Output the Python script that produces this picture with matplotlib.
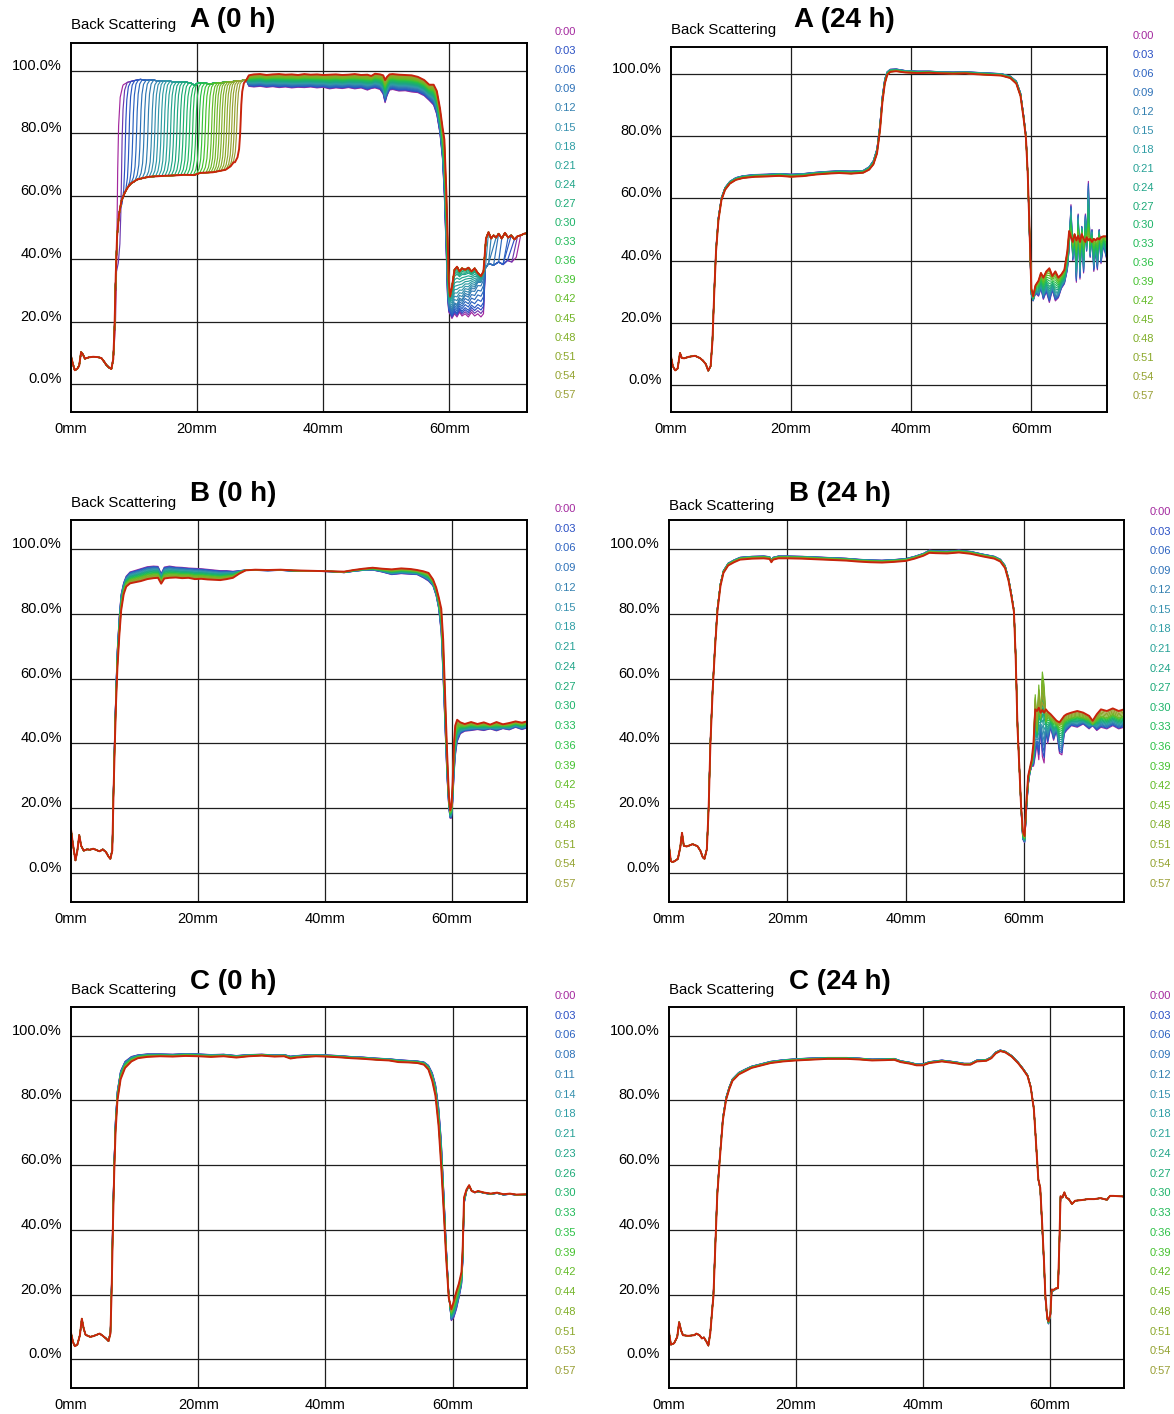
import numpy as np
import matplotlib
matplotlib.use("Agg")
import matplotlib.pyplot as plt
from matplotlib.colors import LinearSegmentedColormap

plt.rcParams["font.family"] = ["Liberation Sans", "DejaVu Sans"]

# ------------------------------------------------------------------
# Scan time labels and their colours
# ------------------------------------------------------------------
TIME_LABELS = ["0:00", "0:03", "0:06", "0:09", "0:12", "0:15", "0:18", "0:21", "0:24", "0:27",
               "0:30", "0:33", "0:36", "0:39", "0:42", "0:45", "0:48", "0:51", "0:54", "0:57"]
TIME_LABELS_C0 = ["0:00", "0:03", "0:06", "0:08", "0:11", "0:14", "0:18", "0:21", "0:23", "0:26",
                  "0:30", "0:33", "0:35", "0:39", "0:42", "0:44", "0:48", "0:51", "0:53", "0:57"]
LEGEND_COLORS = ["#a3289e", "#2a4fc4", "#2b62c0", "#2d71b8", "#3380b0", "#3590ae", "#2f9ea5",
                 "#26a196", "#1fa488", "#1daa78", "#1db36a", "#20ba58", "#2bc146", "#45c22f",
                 "#62bb26", "#72b427", "#80ae28", "#8ba82a", "#93a22f", "#999f35"]

X_TICKS = [0, 20, 40, 60]
Y_TICKS = [0, 20, 40, 60, 80, 100]

# ------------------------------------------------------------------
# A (0 h): migrating front between a lower and an upper plateau
# ------------------------------------------------------------------
A0_BASE_X = [0.0, 0.3, 0.6, 1.0, 1.3, 1.6, 1.9, 2.2, 2.8, 3.5, 4.2, 4.8, 5.2, 5.6, 6.0, 6.4]
A0_BASE_Y = [9.0, 6.5, 4.5, 5.0, 6.0, 10.3, 9.5, 8.2, 8.6, 8.8, 8.7, 8.4, 7.4, 6.2, 5.4, 4.9]
A0_LOW_X = [6.7, 6.9, 7.1, 7.3, 7.6, 8.0, 8.5, 9.0, 9.5, 10.5, 11.5, 12.5, 13.5, 15.0, 16.5,
            18.0, 19.5, 20.5, 21.5, 22.5, 23.5, 24.5, 25.3, 25.8]
A0_LOW_Y = [8.0, 18.0, 35.0, 47.0, 54.0, 58.5, 61.0, 62.8, 64.0, 65.3, 65.8, 66.2, 66.3, 66.5, 66.6,
            66.8, 66.7, 67.4, 67.5, 67.6, 68.0, 68.4, 69.5, 70.8]
A0_HIGH_X = [7.8, 8.3, 9.0, 10.0, 11.0, 12.0, 13.0, 14.0, 15.0, 16.0, 17.0, 18.0, 19.0, 19.6,
             20.2, 21.0, 22.0, 23.0, 24.0, 25.0, 26.0, 27.0, 27.8]
A0_HIGH_Y = [93.5, 95.5, 96.3, 96.8, 97.2, 96.9, 97.0, 96.6, 96.8, 96.5, 96.3, 96.4, 96.0, 95.3,
             96.2, 96.0, 95.8, 96.0, 96.2, 96.3, 96.6, 96.8, 97.0]
A0_RIGHT_X = [28.2, 29, 30, 31, 32, 33, 34, 35, 36, 37, 38, 39, 40, 41, 42, 43, 44, 45, 46, 47,
              47.6, 48.2, 49, 49.5, 49.8, 50.1, 50.5, 51, 52, 53, 54, 55, 56, 56.8, 57.5, 58.0,
              58.5, 58.9, 59.2, 59.5, 59.7, 59.9]
A0_RIGHT_FIRST = [95.0, 94.8, 95.0, 94.7, 94.9, 94.6, 94.8, 94.5, 94.7, 94.6, 94.8, 94.5, 94.7,
                  94.2, 94.5, 94.3, 94.6, 94.2, 94.5, 93.8, 94.3, 94.5, 94.0, 92.5, 89.8, 92.0,
                  93.8, 94.0, 93.5, 93.6, 93.2, 93.0, 92.0, 90.5, 89.0, 86.0, 80.0, 72.0, 60.0,
                  42.0, 28.0, 23.0]
A0_RIGHT_LAST = [98.5, 98.8, 98.9, 98.6, 98.8, 98.9, 98.7, 98.8, 98.6, 98.9, 98.7, 98.8, 98.6,
                 98.7, 98.8, 98.6, 98.7, 98.9, 98.6, 98.7, 98.3, 99.0, 98.8, 98.5, 97.0, 98.0,
                 98.8, 98.9, 98.7, 98.6, 98.5, 98.0, 97.0, 95.5, 95.5, 93.5, 88.0, 82.0, 78.0,
                 62.0, 48.0, 33.0]
A0_TAIL_X = [60.1, 60.4, 60.8, 61.2, 61.6, 62.0, 62.5, 63.0, 63.5, 64.0, 64.5, 65.0, 65.4]
A0_TAIL_LOW = [22.5, 21.0, 22.5, 21.5, 23.0, 21.8, 22.5, 21.5, 23.0, 21.8, 22.5, 21.5, 22.5]
A0_TAIL_DIAG = [25.0, 24.0, 26.0, 25.5, 27.5, 27.0, 29.0, 28.5, 30.5, 30.5, 32.5, 32.5, 34.5]
A0_TAIL_HIGH = [28.0, 31.0, 36.5, 37.5, 36.0, 37.0, 36.5, 37.2, 36.0, 37.0, 35.5, 34.5, 36.0]
A0_STEP_LOW_X = [65.7, 66.2, 67.0, 67.8, 68.5, 69.2, 69.9, 70.6, 71.3, 72.3]
A0_STEP_LOW_Y = [37.0, 38.5, 38.0, 39.0, 38.2, 39.5, 39.0, 40.5, 41.0, 43.0]
A0_STEP_HIGH_X = [65.8, 66.2, 66.6, 67.0, 67.4, 67.8, 68.3, 68.8, 69.3, 69.8, 70.3, 70.8, 71.3,
                  71.8, 72.3]
A0_STEP_HIGH_Y = [46.5, 48.5, 46.5, 47.5, 46.8, 48.0, 46.5, 48.3, 46.8, 47.5, 46.2, 47.2, 47.5,
                  48.0, 48.2]
# front position of every scan (mm), tail mixing state and tail step position (mm)
A0_FRONT = [7.3, 8.0, 8.6, 9.2, 9.8, 10.4, 11.0, 11.6, 12.2, 12.8, 13.3, 13.8, 14.3, 14.8, 15.3,
            15.8, 16.3, 16.8, 17.3, 17.8, 18.3, 18.8, 19.3, 19.8, 20.3, 20.8, 21.3, 21.8, 22.3,
            22.7, 23.1, 23.5, 23.9, 24.3, 24.7, 25.1, 25.5, 25.9, 26.3, 26.9]
A0_TAIL_MIX = [0.0, 0.1, 0.2, 0.3, 0.45, 0.6, 0.75, 0.9, 1.0, 1.1, 1.2, 1.3, 1.4, 1.5, 1.6, 1.7,
               1.8, 1.85, 1.9, 1.95, 2.0, 2.0, 2.0, 2.0, 2.0, 2.0, 2.0, 2.0, 2.0, 2.0, 2.0, 2.0,
               2.0, 2.0, 2.0, 2.0, 2.0, 2.0, 2.0, 2.0]
A0_TAIL_STEP = [70.8, 70.3, 69.7, 69.2, 68.6, 68.0, 67.4, 66.8, 66.3, 65.9, 65.6, 65.6, 65.6,
                65.6, 65.6, 65.6, 65.6, 65.6, 65.6, 65.6, 65.6, 65.6, 65.6, 65.6, 65.6, 65.6,
                65.6, 65.6, 65.6, 65.6, 65.6, 65.6, 65.6, 65.6, 65.6, 65.6, 65.6, 65.6, 65.6, 65.6]
RISE_DX = [-0.9, -0.5, -0.25, -0.1, 0.0, 0.1, 0.25, 0.5, 0.9]
RISE_FRAC = [0.0, 0.06, 0.16, 0.32, 0.5, 0.7, 0.86, 0.96, 1.0]

# ------------------------------------------------------------------
# A (24 h)
# ------------------------------------------------------------------
A24_X = [0.0, 0.3, 0.7, 1.1, 1.5, 1.8, 2.2, 3.0, 4.0, 4.8, 5.3, 5.8, 6.2, 6.6, 6.9, 7.2, 7.5, 7.9,
         8.4, 9.0, 9.8, 10.8, 12, 14, 16, 18, 20, 22, 24, 26, 28, 30, 32, 33, 33.7, 34.3, 34.8,
         35.2, 35.6, 36.0, 36.5, 37.5, 39, 41, 43, 45, 47, 49, 51, 53, 55, 56.5, 57.5, 58.2,
         58.7, 59.1, 59.4, 59.7, 60.0, 60.3, 60.7, 61.2, 61.6, 62.0, 62.5, 63.0, 63.5, 64.0,
         64.5, 65.0, 65.5, 66.0, 66.3, 66.6, 66.9, 67.2, 67.5, 67.8, 68.1, 68.4, 68.7, 69.0,
         69.2, 69.5, 69.8, 70.1, 70.4, 70.7, 71.0, 71.3, 71.6, 72.0, 72.6]
A24_FIRST = [9.0, 6.0, 4.6, 5.2, 10.2, 8.6, 8.5, 9.0, 9.3, 8.6, 7.8, 6.6, 4.5, 6.0, 14.5, 30.5,
             44.0, 54.0, 60.3, 63.5, 65.5, 66.7, 67.3, 67.7, 67.8, 68.0, 67.8, 68.0, 68.4, 68.7,
             68.9, 68.8, 69.0, 70.2, 72.2, 76.0, 84.0, 93.0, 98.5, 100.8, 101.6, 101.7, 101.2,
             101.0, 101.0, 100.8, 100.7, 100.8, 100.6, 100.4, 100.2, 99.4, 97.8, 94.0, 87.0,
             80.5, 68.0, 48.0, 29.0, 27.0, 29.5, 28.5, 31.0, 27.5, 30.0, 26.5, 30.5, 27.0, 28.0,
             31.0, 32.5, 37.0, 44.0, 58.0, 40.0, 47.0, 33.0, 55.0, 34.0, 51.0, 36.0, 55.0, 43.0,
             65.5, 41.0, 50.0, 36.5, 44.0, 37.0, 50.0, 39.0, 45.0, 40.0]
A24_LAST = [9.0, 6.0, 4.6, 5.2, 10.2, 8.6, 8.5, 9.0, 9.3, 8.6, 7.8, 6.6, 4.5, 6.0, 14.0, 29.6,
            43.0, 53.0, 59.5, 62.8, 64.8, 66.0, 66.6, 67.0, 67.1, 67.3, 67.0, 67.2, 67.7, 68.0,
            68.2, 68.0, 68.3, 69.3, 71.0, 74.5, 82.0, 91.0, 97.0, 99.8, 100.8, 101.0, 100.6,
            100.4, 100.5, 100.3, 100.2, 100.3, 100.0, 99.8, 99.6, 98.8, 97.0, 93.0, 86.0, 79.5,
            68.0, 50.0, 31.0, 28.5, 32.0, 33.5, 36.0, 34.5, 36.5, 37.5, 35.0, 36.5, 34.5, 35.5,
            37.0, 43.0, 49.5, 47.5, 46.0, 48.5, 46.5, 48.0, 46.0, 48.5, 47.0, 46.0, 47.5, 46.5,
            47.0, 46.0, 47.0, 46.5, 47.2, 46.8, 47.5, 47.8, 47.8]
A24_PROGRESS = [0, 0.04, 0.08, 0.12, 0.17, 0.22, 0.27, 0.33, 0.4, 0.47, 0.55, 0.63, 0.71, 0.79,
                0.86, 0.92, 0.96, 0.98, 1.0, 1.0]

# ------------------------------------------------------------------
# B (0 h)
# ------------------------------------------------------------------
B0_X = [0.0, 0.3, 0.7, 1.0, 1.3, 1.6, 2.0, 2.5, 3.0, 3.5, 4.0, 4.5, 5.0, 5.5, 5.9, 6.2, 6.5, 6.7,
        6.9, 7.1, 7.3, 7.6, 7.9, 8.3, 8.7, 9.3, 10.0, 11.0, 12.0, 13.0, 13.7, 14.2, 14.7, 15.5,
        16.5, 17.5, 18.5, 19.5, 20.5, 21.5, 22.5, 23.5, 24.5, 25.5, 26.5, 27.5, 29, 31, 33, 35,
        37, 39, 41, 43, 44.5, 46, 47.5, 49, 50.5, 52, 53.5, 54.5, 55.5, 56.3, 57.0, 57.5, 57.9,
        58.3, 58.6, 58.9, 59.2, 59.5, 59.7, 59.9, 60.1, 60.3, 60.5, 60.8, 61.3, 62, 63, 64, 65,
        66, 67, 68, 69, 70, 71, 71.8]
B0_FIRST = [13.5, 9.0, 4.0, 7.0, 11.8, 8.5, 7.0, 7.4, 7.3, 7.6, 7.2, 6.8, 7.4, 6.6, 5.2, 4.5,
            7.5, 27.0, 44.0, 58.0, 69.0, 79.0, 86.0, 89.5, 91.5, 92.8, 93.2, 93.8, 94.4, 94.6,
            94.5, 92.3, 94.3, 94.6, 94.3, 94.2, 94.0, 93.9, 93.8, 93.6, 93.4, 93.2, 93.2, 93.0,
            93.2, 93.4, 93.3, 93.2, 93.3, 93.1, 93.0, 93.0, 92.9, 92.6, 93.0, 93.3, 93.4, 92.8,
            92.0, 92.3, 92.1, 92.0, 91.0, 90.0, 88.5, 85.5, 81.5, 74.0, 60.0, 45.0, 30.0, 20.0,
            17.0, 17.0, 22.0, 30.0, 36.0, 40.5, 43.0, 43.8, 44.0, 44.3, 44.0, 44.5, 43.9, 44.6,
            44.2, 45.0, 44.3, 44.8]
B0_LAST = [13.5, 9.0, 4.0, 7.0, 11.8, 8.5, 7.0, 7.4, 7.3, 7.6, 7.2, 6.8, 7.4, 6.6, 5.2, 4.5,
           7.0, 25.0, 40.0, 53.0, 63.0, 73.0, 81.0, 86.0, 88.3, 89.3, 89.6, 90.0, 90.6, 90.9,
           91.0, 89.2, 90.8, 91.0, 91.1, 90.9, 91.0, 90.6, 90.7, 90.5, 90.4, 90.3, 90.6, 91.0,
           92.3, 93.3, 93.5, 93.4, 93.5, 93.3, 93.2, 93.1, 93.0, 92.9, 93.4, 93.8, 94.1, 93.8,
           93.6, 93.9, 93.7, 93.4, 93.0, 92.5, 90.5, 88.0, 85.0, 81.5, 72.0, 55.0, 38.0, 24.0,
           19.5, 20.5, 28.0, 40.0, 45.5, 47.3, 46.5, 46.0, 46.6, 46.0, 46.5, 45.8, 46.6, 45.9,
           46.3, 46.8, 46.4, 46.8]
B0_PROGRESS = [0, 0.05, 0.1, 0.16, 0.21, 0.26, 0.32, 0.37, 0.42, 0.47, 0.53, 0.58, 0.63, 0.68,
               0.74, 0.79, 0.84, 0.89, 0.95, 1.0]

# ------------------------------------------------------------------
# B (24 h)
# ------------------------------------------------------------------
B24_X = [0.0, 0.3, 0.6, 1.0, 1.5, 1.9, 2.2, 2.5, 3.0, 4.0, 4.8, 5.3, 5.7, 6.0, 6.4, 6.7, 7.0,
         7.4, 7.8, 8.2, 8.7, 9.2, 10, 11, 12, 14, 16, 17.0, 17.3, 17.6, 18.5, 20, 22.5, 25, 27.5,
         30, 32, 34, 36, 38, 40, 41.5, 43, 44, 45, 47, 49, 51, 53, 55, 56, 56.8, 57.4, 57.9,
         58.3, 58.6, 58.9, 59.2, 59.5, 59.8, 60.1, 60.4, 60.7, 61.0, 61.3, 61.6, 61.9, 62.2,
         62.5, 62.8, 63.1, 63.4, 63.7, 64.0, 64.5, 65.0, 65.5, 66.0, 66.4, 66.8, 67.2, 68, 69,
         70, 71, 71.6, 72.3, 73, 74, 75, 76, 76.9]
B24_FIRST = [8.5, 3.8, 3.5, 3.8, 4.5, 8.0, 12.5, 8.5, 8.3, 9.0, 8.4, 7.0, 5.0, 4.5, 7.5, 21.0,
             41.0, 58.0, 71.0, 82.0, 89.3, 93.2, 95.5, 96.5, 97.3, 97.6, 97.7, 97.5, 96.5, 97.3,
             97.7, 97.7, 97.6, 97.4, 97.2, 97.0, 96.7, 96.5, 96.4, 96.6, 96.9, 97.6, 98.5, 99.5,
             99.3, 99.2, 99.5, 99.1, 98.3, 97.6, 96.7, 94.8, 90.8, 85.8, 81.0, 67.0, 46.0, 33.5,
             20.0, 10.5, 9.5, 19.0, 27.0, 31.0, 33.0, 33.0, 36.0, 40.0, 35.0, 45.0, 36.0, 34.0,
             44.0, 40.0, 45.0, 41.0, 44.0, 37.0, 36.5, 43.0, 44.0, 45.5, 45.0, 46.0, 44.5, 45.5,
             44.0, 45.0, 44.5, 45.5, 44.5, 45.0]
B24_MID = [8.5, 3.8, 3.5, 3.8, 4.5, 8.0, 12.5, 8.5, 8.3, 9.0, 8.4, 7.0, 5.0, 4.5, 7.5, 20.5,
           40.5, 57.5, 70.5, 81.5, 89.0, 92.8, 95.1, 96.1, 96.9, 97.2, 97.3, 97.1, 96.1, 96.9,
           97.3, 97.3, 97.2, 97.0, 96.8, 96.6, 96.3, 96.1, 96.0, 96.2, 96.5, 97.2, 98.1, 99.0,
           98.9, 98.8, 99.1, 98.7, 97.9, 97.2, 96.3, 94.3, 90.3, 85.3, 80.8, 66.5, 45.5, 33.0,
           21.0, 12.0, 11.0, 21.0, 29.0, 32.0, 34.0, 38.0, 55.0, 44.0, 58.0, 48.0, 62.0, 58.0,
           47.0, 49.0, 47.5, 47.0, 46.0, 45.5, 46.0, 47.0, 47.5, 48.0, 48.5, 48.0, 47.5, 46.0,
           47.5, 48.5, 48.0, 49.0, 48.0, 48.5]
B24_LAST = [8.5, 3.8, 3.5, 3.8, 4.5, 8.0, 12.5, 8.5, 8.3, 9.0, 8.4, 7.0, 5.0, 4.5, 7.5, 20.0,
            40.0, 57.0, 70.0, 81.0, 88.5, 92.5, 94.8, 95.8, 96.6, 96.9, 97.0, 96.8, 95.8, 96.6,
            97.0, 97.0, 96.9, 96.7, 96.5, 96.3, 96.0, 95.8, 95.7, 95.9, 96.2, 96.9, 97.8, 98.7,
            98.6, 98.5, 98.8, 98.4, 97.6, 96.9, 96.0, 94.0, 90.0, 85.0, 80.5, 66.0, 45.0, 33.0,
            21.0, 13.0, 11.5, 22.0, 30.0, 32.5, 35.0, 40.0, 50.5, 50.0, 51.0, 49.5, 50.3, 49.5,
            50.5, 49.8, 49.0, 48.0, 47.0, 46.5, 47.5, 48.5, 49.0, 49.5, 50.0, 49.5, 48.5, 47.0,
            49.0, 50.5, 50.0, 50.8, 50.0, 50.5]
B24_PROGRESS = [0, 0.07, 0.14, 0.21, 0.28, 0.36, 0.43, 0.5, 0.57, 0.64, 0.71, 0.79, 0.86, 0.93,
                1.0, 1.2, 1.4, 1.6, 1.8, 2.0]

# ------------------------------------------------------------------
# C (0 h)
# ------------------------------------------------------------------
C0_X = [0.0, 0.3, 0.6, 1.0, 1.4, 1.7, 2.0, 2.3, 3.0, 3.5, 4.0, 4.5, 5.0, 5.5, 5.9, 6.2, 6.4, 6.6,
        6.8, 7.0, 7.3, 7.8, 8.5, 9.5, 10.5, 12, 14, 16, 18, 20, 22, 24, 26, 28, 30, 32, 33.5,
        34.5, 35.5, 37, 38.5, 40, 42, 44, 46, 48, 50, 51.5, 53, 54.5, 55.5, 56.2, 56.8, 57.3,
        57.8, 58.2, 58.6, 59.0, 59.4, 59.8, 60.2, 60.6, 61.0, 61.4, 61.6, 61.8, 62.2, 62.6,
        63.0, 63.5, 64, 65, 66, 67, 68, 69, 70, 71.7]
C0_FIRST = [8.2, 5.5, 4.1, 4.6, 7.5, 12.6, 9.5, 7.6, 7.0, 7.2, 7.6, 8.0, 7.3, 6.5, 5.7, 8.5,
            25.0, 46.0, 62.0, 74.0, 83.0, 89.0, 92.0, 93.5, 94.0, 94.3, 94.3, 94.2, 94.4, 94.3,
            94.1, 94.2, 93.8, 94.1, 94.2, 94.0, 94.1, 93.6, 93.8, 94.0, 94.1, 94.0, 93.8, 93.5,
            93.3, 93.0, 92.8, 92.5, 92.3, 92.1, 91.8, 90.8, 88.5, 85.0, 78.0, 68.0, 52.0, 35.0,
            20.0, 12.0, 13.0, 15.5, 19.0, 23.0, 30.0, 48.0, 52.0, 53.5, 52.2, 51.5, 51.8, 51.3,
            51.0, 51.3, 50.8, 51.0, 50.8, 50.8]
C0_LAST = [8.2, 5.5, 4.1, 4.6, 7.5, 12.6, 9.5, 7.6, 7.0, 7.2, 7.6, 8.0, 7.3, 6.5, 5.7, 8.0,
           22.0, 42.0, 58.0, 70.0, 80.0, 86.5, 90.0, 92.0, 93.0, 93.4, 93.6, 93.5, 93.7, 93.6,
           93.4, 93.6, 93.2, 93.6, 93.8, 93.5, 93.6, 92.9, 93.2, 93.4, 93.6, 93.5, 93.3, 93.0,
           92.8, 92.5, 92.3, 91.8, 91.7, 91.5, 91.0, 89.5, 86.0, 81.5, 72.0, 60.0, 46.0, 31.0,
           19.0, 15.5, 18.0, 21.0, 23.5, 27.0, 35.0, 50.0, 52.5, 53.8, 52.0, 51.6, 52.0, 51.5,
           51.2, 51.5, 51.0, 51.2, 50.9, 51.0]
C0_PROGRESS = [0, 0.05, 0.1, 0.16, 0.21, 0.26, 0.32, 0.37, 0.42, 0.47, 0.53, 0.58, 0.63, 0.68,
               0.74, 0.79, 0.84, 0.89, 0.95, 1.0]

# ------------------------------------------------------------------
# C (24 h)
# ------------------------------------------------------------------
C24_X = [0.0, 0.3, 0.8, 1.3, 1.6, 1.9, 2.2, 3.0, 4.0, 4.3, 4.8, 5.2, 5.5, 5.9, 6.2, 6.5, 6.8,
         7.0, 7.3, 7.6, 8.0, 8.5, 9.0, 9.5, 10.0, 11, 12, 13, 14, 16, 18, 20, 22, 25, 28, 30, 32,
         34, 35.5, 36.5, 38, 39, 40, 41, 43, 45, 46.5, 47.5, 48.5, 50.0, 50.8, 51.5, 52.2, 53,
         54, 55, 55.8, 56.5, 57.0, 57.5, 57.8, 58.0, 58.2, 58.5, 58.8, 59.1, 59.3, 59.6, 59.8,
         60.1, 60.3, 60.6, 61.0, 61.3, 61.5, 61.7, 62.0, 62.3, 62.6, 63.0, 63.5, 64, 65, 66, 67,
         68, 69, 69.5, 70, 71.7]
C24_FIRST = [8.4, 4.6, 5.0, 7.0, 11.5, 9.0, 7.5, 7.3, 7.5, 8.0, 7.5, 6.5, 6.8, 5.5, 4.3, 8.3,
             15.5, 20.5, 36.0, 51.5, 62.7, 75.0, 81.0, 84.2, 86.6, 88.6, 89.6, 90.5, 91.0, 92.0,
             92.5, 92.8, 93.0, 93.2, 93.2, 93.0, 92.7, 92.8, 92.9, 92.2, 91.7, 91.2, 91.2, 91.9,
             92.4, 91.9, 91.4, 91.4, 92.4, 92.6, 93.4, 94.9, 95.5, 95.1, 93.8, 91.8, 89.8, 87.8,
             84.3, 77.5, 68.0, 61.5, 55.6, 52.5, 41.0, 29.0, 19.0, 12.5, 11.0, 13.5, 21.0, 21.2,
             21.8, 22.0, 34.0, 50.0, 50.0, 51.4, 50.0, 49.5, 48.0, 49.0, 49.2, 49.5, 49.5, 49.8,
             49.3, 50.5, 50.5, 50.3]
C24_LAST = [8.4, 4.6, 5.0, 7.0, 11.5, 9.0, 7.5, 7.3, 7.5, 8.0, 7.5, 6.5, 6.8, 5.5, 4.3, 8.0,
            15.0, 19.5, 35.0, 50.4, 61.7, 74.0, 80.2, 83.5, 86.0, 88.0, 89.0, 90.0, 90.5, 91.5,
            92.0, 92.3, 92.5, 92.8, 92.8, 92.6, 92.3, 92.4, 92.5, 91.8, 91.3, 90.8, 90.8, 91.5,
            92.0, 91.5, 91.0, 91.0, 92.0, 92.2, 93.0, 94.5, 95.2, 94.8, 93.5, 91.5, 89.5, 87.5,
            84.0, 77.2, 68.0, 61.7, 55.6, 53.0, 42.0, 30.0, 20.0, 13.0, 11.8, 14.0, 21.6, 21.5,
            22.0, 22.0, 35.0, 50.4, 50.0, 51.6, 50.0, 49.5, 48.0, 49.0, 49.2, 49.5, 49.5, 49.8,
            49.3, 50.5, 50.5, 50.3]
C24_PROGRESS = [0, 0.05, 0.1, 0.16, 0.21, 0.26, 0.32, 0.37, 0.42, 0.47, 0.53, 0.58, 0.63, 0.68,
                0.74, 0.79, 0.84, 0.89, 0.95, 1.0]

# ------------------------------------------------------------------
# Figure layout (pixels)
# ------------------------------------------------------------------
FIG_W, FIG_H = 1174, 1414
Y_RANGE = (-8.8, 108.8)
FINAL_RED = "#c8240c"
scan_cmap = LinearSegmentedColormap.from_list("scan", LEGEND_COLORS)

fig = plt.figure(figsize=(FIG_W / 100, FIG_H / 100), dpi=100)
fig.patch.set_facecolor("white")


def make_axes(box, xmax):
    l, t, r, b = box
    ax = fig.add_axes([l / FIG_W, 1 - b / FIG_H, (r - l) / FIG_W, (b - t) / FIG_H])
    ax.set_xlim(0, xmax)
    ax.set_ylim(*Y_RANGE)
    ax.set_xticks([])
    ax.set_yticks([])
    for s in ax.spines.values():
        s.set_linewidth(1.4)
        s.set_color("black")
        s.set_zorder(5)
    for xv in X_TICKS[1:]:
        ax.axvline(xv, color="#1e1e1e", lw=0.9, zorder=1)
    for yv in Y_TICKS:
        ax.axhline(yv, color="#1e1e1e", lw=0.9, zorder=1)
    for yv in Y_TICKS:
        ax.annotate(f"{yv:.1f}%", xy=(0, yv), xycoords=("axes fraction", "data"),
                    xytext=(-9, 1), textcoords="offset pixels", ha="right", va="baseline",
                    fontsize=10.5, annotation_clip=False)
    for xv in X_TICKS:
        ax.annotate(f"{xv}mm", xy=(xv, 0), xycoords=("data", "axes fraction"),
                    xytext=(0, -17), textcoords="offset pixels", ha="center", va="center",
                    fontsize=10.5, annotation_clip=False)
    return ax


def scan_style(k, n):
    if k == n - 1:
        return FINAL_RED, 1.4
    return scan_cmap(k / (n - 2)), 0.85


def blend(keys, t):
    i = min(int(np.floor(t)), len(keys) - 2)
    f = t - i
    return (1 - f) * keys[i] + f * keys[i + 1]


def draw_blended(ax, xs, keys, progress):
    xs = np.asarray(xs)
    keys = [np.asarray(k, dtype=float) for k in keys]
    for k in keys:
        assert len(k) == len(xs), (len(k), len(xs))
    n = len(progress)
    for k, t in enumerate(progress):
        c, lw = scan_style(k, n)
        ax.plot(xs, blend(keys, t), color=c, lw=lw, zorder=3 + k * 0.01, solid_joinstyle="round")


def a0_scan(k):
    p = A0_FRONT[k]
    w = (p - A0_FRONT[0]) / (A0_FRONT[-1] - A0_FRONT[0])
    lower_x = np.array(A0_BASE_X + A0_LOW_X)
    lower_y = np.array(A0_BASE_Y + A0_LOW_Y)
    hx, hy = np.array(A0_HIGH_X), np.array(A0_HIGH_Y)
    dx, fr = np.array(RISE_DX), np.array(RISE_FRAC)
    x0, x1 = p + dx[0], p + dx[-1]
    lo = np.interp(x0, lower_x, lower_y)
    hi = np.interp(x1, hx, hy)
    xs = [lower_x[lower_x < x0], p + dx, hx[hx > x1]]
    ys = [lower_y[lower_x < x0], lo + fr * (hi - lo), hy[hx > x1]]
    rf, rl = np.array(A0_RIGHT_FIRST), np.array(A0_RIGHT_LAST)
    xs.append(np.array(A0_RIGHT_X))
    ys.append(rf + w * (rl - rf))
    tail = blend([np.array(A0_TAIL_LOW), np.array(A0_TAIL_DIAG), np.array(A0_TAIL_HIGH)],
                 A0_TAIL_MIX[k])
    xs.append(np.array(A0_TAIL_X))
    ys.append(tail)
    r = A0_TAIL_STEP[k]
    sx, sy = np.array(A0_STEP_LOW_X), np.array(A0_STEP_LOW_Y)
    tx, ty = np.array(A0_STEP_HIGH_X), np.array(A0_STEP_HIGH_Y)
    if r > 65.8:
        xs += [sx[sx < r], tx[tx >= r + 0.3]]
        ys += [sy[sx < r], ty[tx >= r + 0.3]]
    else:
        xs.append(tx)
        ys.append(ty)
    return np.concatenate(xs), np.concatenate(ys)


PANELS = [
    dict(name="A (0 h)", box=(71, 43, 527, 412), xmax=72.3, bs=(71, 25), title=(190, 20),
         legend=(555, 32, 395), labels=TIME_LABELS),
    dict(name="A (24 h)", box=(671, 47, 1107, 412), xmax=72.6, bs=(671, 30), title=(794, 20),
         legend=(1133, 36, 396), labels=TIME_LABELS),
    dict(name="B (0 h)", box=(71, 520, 527, 902), xmax=71.8, bs=(71, 503), title=(190, 494),
         legend=(555, 509, 884), labels=TIME_LABELS),
    dict(name="B (24 h)", box=(669, 520, 1124, 902), xmax=76.9, bs=(669, 506), title=(789, 494),
         legend=(1150, 512, 884), labels=TIME_LABELS),
    dict(name="C (0 h)", box=(71, 1007, 527, 1388), xmax=71.7, bs=(71, 990), title=(190, 982),
         legend=(555, 996, 1371), labels=TIME_LABELS_C0),
    dict(name="C (24 h)", box=(669, 1007, 1124, 1388), xmax=71.7, bs=(669, 990), title=(789, 982),
         legend=(1150, 996, 1371), labels=TIME_LABELS),
]

axes = []
for pnl in PANELS:
    ax = make_axes(pnl["box"], pnl["xmax"])
    axes.append(ax)
    fig.text(pnl["bs"][0] / FIG_W, 1 - pnl["bs"][1] / FIG_H, "Back Scattering",
             fontsize=10.8, ha="left", va="center")
    fig.text(pnl["title"][0] / FIG_W, 1 - pnl["title"][1] / FIG_H, pnl["name"],
             fontsize=20, fontweight="bold", ha="left", va="center")
    lx, ly0, ly1 = pnl["legend"]
    labels = pnl["labels"]
    for i, lab in enumerate(labels):
        yy = ly0 + (ly1 - ly0) * i / (len(labels) - 1)
        fig.text(lx / FIG_W, 1 - yy / FIG_H, lab, fontsize=8, color=LEGEND_COLORS[i],
                 ha="left", va="center")

# A (0 h): moving front
n_a0 = len(A0_FRONT)
for k in range(n_a0):
    xs, ys = a0_scan(k)
    c, lw = scan_style(k, n_a0)
    axes[0].plot(xs, ys, color=c, lw=lw, zorder=3 + k * 0.01, solid_joinstyle="round")

draw_blended(axes[1], A24_X, [A24_FIRST, A24_LAST], A24_PROGRESS)
draw_blended(axes[2], B0_X, [B0_FIRST, B0_LAST], B0_PROGRESS)
draw_blended(axes[3], B24_X, [B24_FIRST, B24_MID, B24_LAST], B24_PROGRESS)
draw_blended(axes[4], C0_X, [C0_FIRST, C0_LAST], C0_PROGRESS)
draw_blended(axes[5], C24_X, [C24_FIRST, C24_LAST], C24_PROGRESS)

fig.savefig("out.png", dpi=100, facecolor="white")
